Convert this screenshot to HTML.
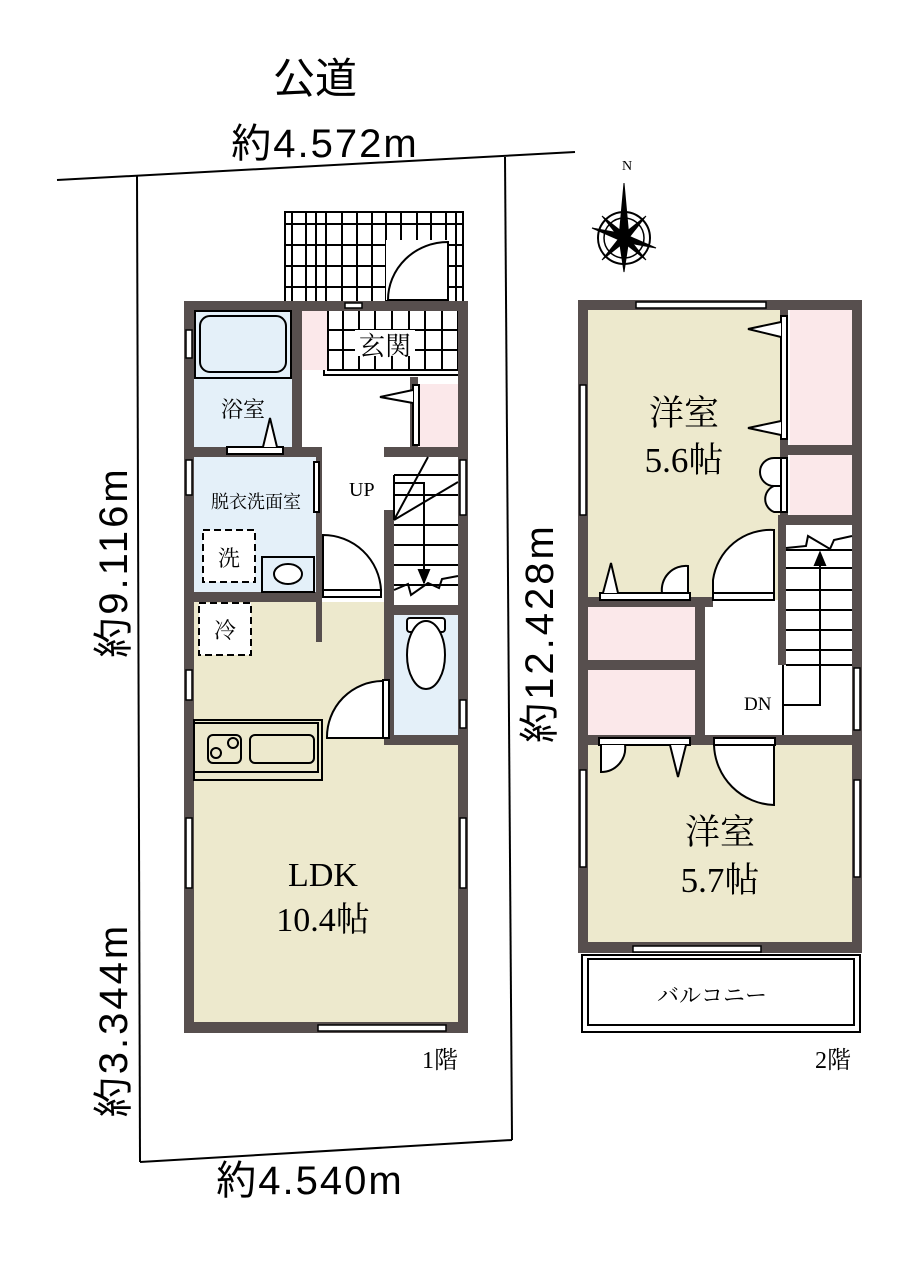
<!DOCTYPE html><html><head><meta charset="utf-8"><style>html,body{margin:0;padding:0;background:#fff}svg{display:block}
.s{font-family:"Liberation Sans","Noto Sans CJK JP",sans-serif}.m{font-family:"Liberation Serif","Noto Serif CJK SC",serif}</style></head><body>
<svg width="921" height="1264" viewBox="0 0 921 1264" xmlns="http://www.w3.org/2000/svg">
<g stroke="#000" stroke-width="2" fill="none">
<line x1="57" y1="180" x2="575" y2="152"/>
<line x1="137" y1="175" x2="140" y2="1162"/>
<line x1="505" y1="157" x2="512" y2="1140"/>
<line x1="140" y1="1162" x2="512" y2="1140"/>
</g>
<text x="315" y="93" font-size="42" class="s" text-anchor="middle">公道</text>
<text x="325" y="157" font-size="40" letter-spacing="2" class="s" text-anchor="middle">約4.572m</text>
<text x="310" y="1194" font-size="40" letter-spacing="2" class="s" text-anchor="middle">約4.540m</text>
<text transform="translate(127,562) rotate(-90)" font-size="40" letter-spacing="3" class="s" text-anchor="middle">約9.116m</text>
<text transform="translate(127,1020) rotate(-90)" font-size="40" letter-spacing="3" class="s" text-anchor="middle">約3.344m</text>
<text transform="translate(553,633) rotate(-90)" font-size="40" letter-spacing="3" class="s" text-anchor="middle">約12.428m</text>
<!-- compass -->
<g transform="translate(624,238)" stroke="#000" fill="#000">
<circle r="26" fill="none" stroke-width="2"/><circle r="20" fill="none" stroke-width="1.5"/>
<polygon points="0,-55 5,0 0,34 -5,0" fill="#000"/>
<polygon points="-32,-10 0,-4 32,10 0,4"/>
<polygon points="-22,22 -3,-2 22,-22 3,2"/>
<polygon points="-22,-22 2,-3 22,22 -2,3"/>
</g>
<text x="627" y="170" font-size="14" class="m" text-anchor="middle">N</text>
<!-- 1F porch tiles -->
<g stroke="#000" stroke-width="2" fill="#fff">
<rect x="285" y="212" width="178" height="90"/>
<path d="M285 224H463M285 245H463M285 266H463M285 287H463M292 212V302M306 212V302M316 212V302M326 212V302M342 212V302M357 212V302M372 212V302M386 212V302M401 212V302M417 212V302M431 212V302M446 212V302M456 212V302" fill="none"/>
<rect x="386" y="240" width="62" height="60" fill="#fff" stroke="none"/>
<path d="M448 242V300H388A60 58 0 0 1 448 242Z"/>
</g>
<!-- 1F floors -->
<rect x="190" y="306" width="274" height="722" fill="#fff"/>
<rect x="194" y="310" width="98" height="137" fill="#e4f0f9"/>
<rect x="194" y="457" width="122" height="135" fill="#e4f0f9"/>
<rect x="194" y="602" width="264" height="421" fill="#ede9cd"/>
<rect x="322" y="602" width="62" height="135" fill="#ede9cd"/>
<rect x="394" y="615" width="64" height="120" fill="#e4f0f9"/>
<rect x="394" y="745" width="64" height="10" fill="#ede9cd"/>
<rect x="302" y="310" width="26" height="60" fill="#fbe8ea"/>
<rect x="418" y="384" width="40" height="63" fill="#fbe8ea"/>
<g stroke="#000" stroke-width="2" fill="none">
<rect x="328" y="310" width="130" height="60"/>
<path d="M328 330H458M328 350H458M343 310V370M359 310V370M375 310V370M392 310V370M409 310V370M425 310V370M442 310V370"/>
<path d="M324 370V375H458"/>
</g>
<rect x="355" y="330" width="60" height="26" fill="#fff"/>
<text x="385" y="355" font-size="26" class="m" text-anchor="middle">玄関</text>
<!-- 1F walls -->
<g fill="#574f4e">
<rect x="184" y="301" width="284" height="10"/>
<rect x="184" y="1022" width="284" height="11"/>
<rect x="184" y="301" width="10" height="732"/>
<rect x="458" y="301" width="10" height="732"/>
<rect x="292" y="301" width="10" height="155"/>
<rect x="184" y="447" width="138" height="10"/>
<rect x="384" y="447" width="84" height="10"/>
<rect x="410" y="377" width="8" height="70"/>
<rect x="316" y="455" width="6" height="145"/>
<rect x="184" y="592" width="138" height="10"/>
<rect x="316" y="600" width="6" height="42"/>
<rect x="384" y="510" width="10" height="235"/>
<rect x="384" y="605" width="84" height="10"/>
<rect x="384" y="735" width="84" height="10"/>
</g>
<!-- 1F fixtures -->
<g stroke="#000" stroke-width="2" fill="#e4f0f9">
<rect x="195" y="311" width="96" height="67"/>
<rect x="200" y="316" width="86" height="56" rx="10"/>
<rect x="227" y="447" width="56" height="7" fill="#fff"/>
<path d="M263 447L270 418L277 447" fill="#fff"/>
<rect x="413" y="385" width="6" height="60" fill="#fff"/>
<path d="M413 390L380 397L413 403" fill="#fff"/>
<rect x="262" y="557" width="52" height="35"/>
<ellipse cx="288" cy="574" rx="14" ry="10" fill="#fff"/>
<rect x="314" y="462" width="5" height="50" fill="#fff"/>
<path d="M323 590V535A58 58 0 0 1 381 590Z" fill="#fff"/>
<rect x="323" y="590" width="58" height="7" fill="#fff"/>
<path d="M383 681V738H327A56 56 0 0 1 383 681Z" fill="#fff"/>
<rect x="383" y="680" width="6" height="58" fill="#fff"/>
<rect x="407" y="618" width="38" height="14" rx="3" fill="#fff"/>
<ellipse cx="426" cy="655" rx="19" ry="34" fill="#fff"/>
<rect x="194" y="720" width="128" height="60" fill="#ede9cd"/>
<path d="M194 723H318V772H194M322 720V780H194" fill="none"/>
<rect x="208" y="735" width="33" height="28" rx="5" fill="#ede9cd"/>
<circle cx="233" cy="743" r="5" fill="#ede9cd"/><circle cx="216" cy="753" r="5" fill="#ede9cd"/>
<rect x="250" y="735" width="64" height="28" rx="5" fill="#ede9cd"/>
</g>
<g stroke="#000" stroke-width="2" stroke-dasharray="7,4" fill="#fff">
<rect x="203" y="530" width="52" height="52"/><rect x="199" y="603" width="52" height="52"/>
</g>
<text x="229" y="566" font-size="22" class="m" text-anchor="middle">洗</text>
<text x="225" y="638" font-size="22" class="m" text-anchor="middle">冷</text>
<!-- stairs 1F -->
<g stroke="#000" stroke-width="2" fill="#fff">
<rect x="394" y="457" width="64" height="148" stroke="none"/>
<path d="M394 475H458M394 495H458M394 525H458M394 545H458M394 565H458M394 585H458"/>
<path d="M394 520L428 457M394 520L458 482"/>
<path d="M394 475V520"/>
<path d="M394 483H424V583" fill="none"/>
<polygon points="419,570 429,570 424,582" fill="#000"/>
<path d="M394 590L408 584L411 595L428 583L439 588L442 579L458 576" fill="none"/>
</g>
<text x="349" y="496" font-size="20" class="m">UP</text>
<text x="243" y="417" font-size="22" class="m" text-anchor="middle">浴室</text>
<text x="256" y="508" font-size="18" class="m" text-anchor="middle">脱衣洗面室</text>
<text x="323" y="886" font-size="34" class="m" text-anchor="middle">LDK</text>
<text x="323" y="931" font-size="34" class="m" text-anchor="middle">10.4帖</text>
<text x="440" y="1068" font-size="24" class="m" text-anchor="middle">1階</text>
<!-- 1F windows -->
<g stroke="#000" stroke-width="1.5" fill="#fff">
<rect x="186" y="330" width="6" height="28"/><rect x="186" y="460" width="6" height="35"/>
<rect x="186" y="670" width="6" height="30"/><rect x="186" y="818" width="6" height="70"/>
<rect x="460" y="460" width="6" height="55"/><rect x="460" y="700" width="6" height="28"/>
<rect x="460" y="818" width="6" height="70"/><rect x="318" y="1025" width="128" height="6"/>
<rect x="345" y="303" width="17" height="5"/>
</g>
<!-- 2F -->
<rect x="582" y="955" width="278" height="77" fill="#fff" stroke="#000" stroke-width="2"/>
<rect x="588" y="959" width="266" height="66" fill="none" stroke="#000" stroke-width="2"/>
<text x="712" y="1003" font-size="22" class="m" text-anchor="middle">バルコニー</text>
<rect x="588" y="310" width="264" height="635" fill="#fff"/>
<rect x="588" y="310" width="192" height="290" fill="#ede9cd"/>
<rect x="588" y="745" width="264" height="200" fill="#ede9cd"/>
<rect x="790" y="310" width="62" height="135" fill="#fbe8ea"/>
<rect x="790" y="455" width="62" height="60" fill="#fbe8ea"/>
<rect x="588" y="603" width="107" height="57" fill="#fbe8ea"/>
<rect x="588" y="670" width="107" height="65" fill="#fbe8ea"/>
<g fill="#574f4e">
<rect x="578" y="300" width="284" height="10"/>
<rect x="578" y="942" width="284" height="11"/>
<rect x="578" y="300" width="10" height="653"/>
<rect x="852" y="300" width="10" height="653"/>
<rect x="780" y="300" width="8" height="222"/>
<rect x="780" y="445" width="82" height="10"/>
<rect x="780" y="515" width="82" height="10"/>
<rect x="778" y="515" width="8" height="150"/>
<rect x="578" y="597" width="135" height="10"/>
<rect x="695" y="597" width="10" height="145"/>
<rect x="578" y="660" width="127" height="10"/>
<rect x="578" y="735" width="284" height="10"/>
</g>
<g stroke="#000" stroke-width="2" fill="#fff">
<rect x="781" y="316" width="6" height="123"/>
<path d="M781 322L748 329L781 337M781 421L748 428L781 435"/>
<rect x="781" y="458" width="6" height="54"/>
<path d="M781 458H774A14 14 0 0 0 774 486H781ZM781 486H774A14 14 0 0 0 774 512H781Z" fill="#fff"/>
<rect x="600" y="593" width="90" height="7"/>
<path d="M603 593L611 563L618 593"/>
<path d="M662 593A24 24 0 0 1 688 566V593Z"/>
<path d="M713 593V580A58 58 0 0 1 774 530V593Z"/>
<rect x="713" y="593" width="61" height="7"/>
<rect x="599" y="738" width="91" height="7"/>
<path d="M601 745V772A24 24 0 0 0 625 745"/>
<path d="M670 745L678 777L686 745"/>
<rect x="714" y="738" width="61" height="7"/>
<path d="M714 745A62 62 0 0 0 774 805V745Z"/>
<rect x="786" y="525" width="66" height="210" stroke="none"/>
<path d="M786 550H852M786 568H852M786 590H852M786 610H852M786 630H852M786 650H852M786 665H852" fill="none"/>
<path d="M786 548L806 546L808 536L830 549L834 540L852 536" fill="none"/>
<path d="M783 705H820V562" fill="none"/>
<polygon points="815,565 825,565 820,553" fill="#000"/>
<path d="M783 665V735" fill="none"/>
</g>
<text x="744" y="710" font-size="19" class="m">DN</text>
<text x="684" y="425" font-size="35" class="m" text-anchor="middle">洋室</text>
<text x="684" y="472" font-size="35" class="m" text-anchor="middle">5.6帖</text>
<text x="720" y="844" font-size="35" class="m" text-anchor="middle">洋室</text>
<text x="720" y="892" font-size="35" class="m" text-anchor="middle">5.7帖</text>
<text x="833" y="1068" font-size="24" class="m" text-anchor="middle">2階</text>
<g stroke="#000" stroke-width="1.5" fill="#fff">
<rect x="636" y="302" width="130" height="6"/>
<rect x="580" y="385" width="6" height="130"/><rect x="854" y="668" width="6" height="62"/>
<rect x="580" y="770" width="6" height="97"/><rect x="854" y="780" width="6" height="97"/>
<rect x="633" y="946" width="128" height="6"/>
</g>
</svg></body></html>
